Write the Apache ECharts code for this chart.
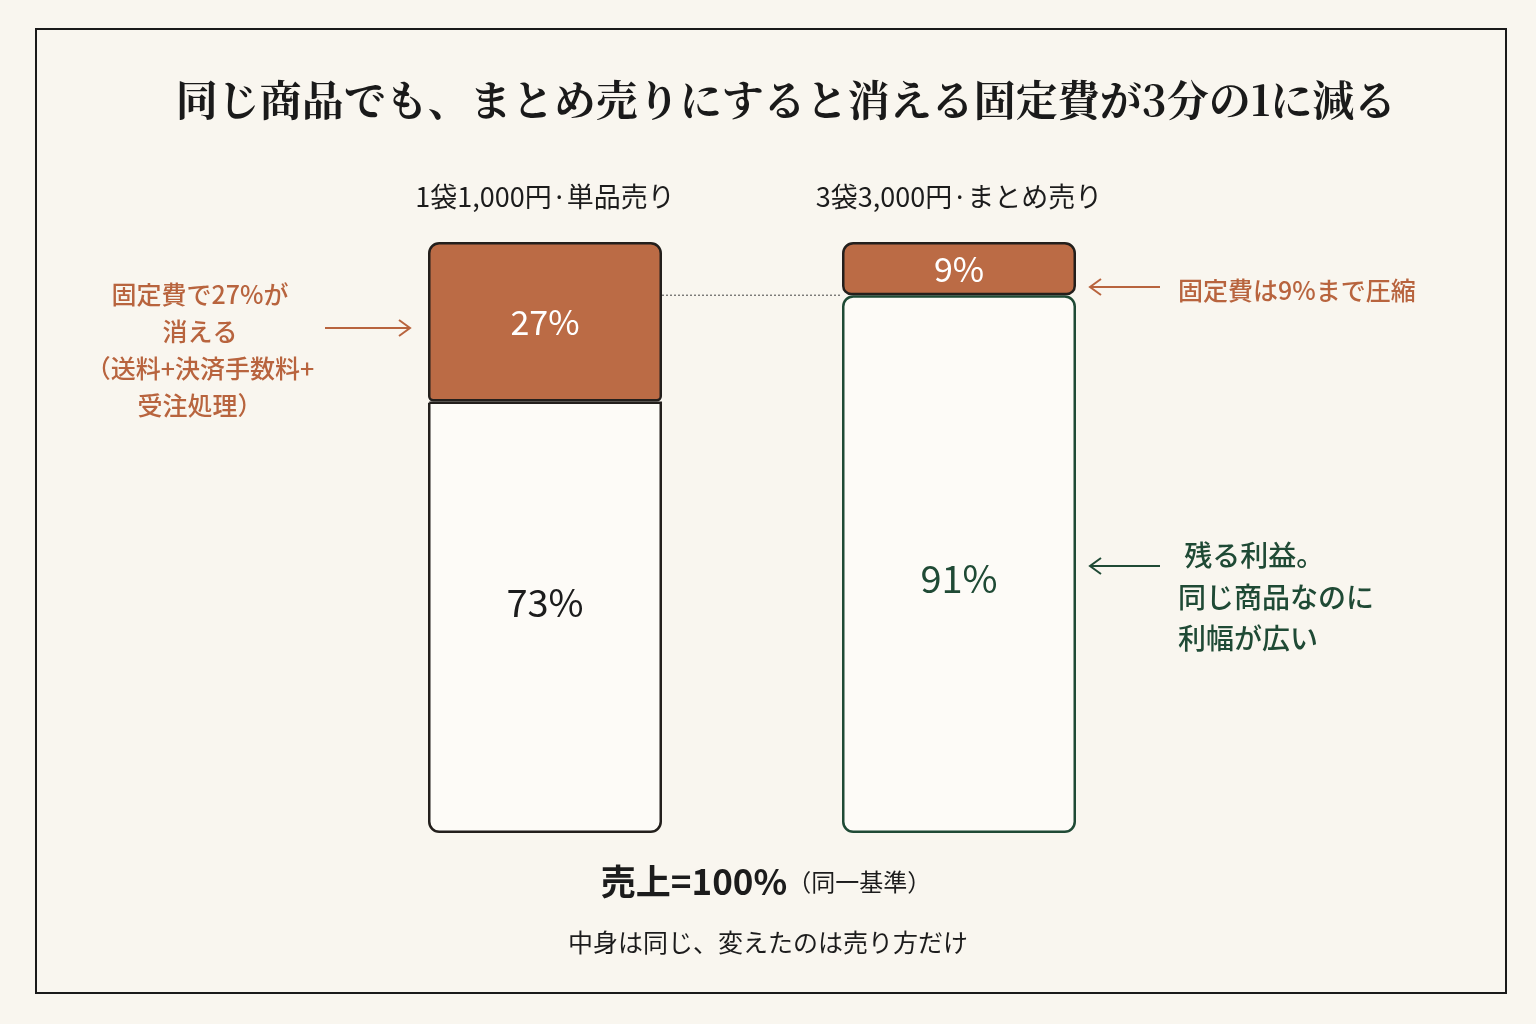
<!DOCTYPE html>
<html><head><meta charset="utf-8">
<script src="https://cdn.jsdelivr.net/npm/echarts@6/dist/echarts.min.js"></script>
<style>html,body{margin:0;padding:0;background:#f9f6ef;}#c{width:1536px;height:1024px;}</style>
</head><body><div id="c"></div>
<script>
const categories = ['1袋1,000円·単品売り', '3袋3,000円·まとめ売り'];
const fixedCost = [27, 9];
const profit = [73, 91];

const ORANGE = '#bb6b45';
const ORANGE_TXT = '#b8643e';
const GREEN = '#1f4a35';
const DARK = '#231f1c';
const FONT = '"Noto Sans CJK JP", "Noto Sans", sans-serif';

const chart = echarts.init(document.getElementById('c'), null, {renderer: 'canvas'});

const profitData = profit.map((v, i) => ({
  value: v,
  itemStyle: {
    color: '#fdfbf7',
    borderColor: i === 0 ? DARK : GREEN,
    borderWidth: 2.5,
    borderRadius: i === 0 ? [0, 0, 10, 10] : [10, 10, 10, 10]
  },
  label: { color: i === 0 ? '#1c1c1c' : GREEN, offset: [0, i === 0 ? -15 : 14] }
}));
const fixedData = fixedCost.map((v, i) => ({
  value: v,
  itemStyle: {
    color: ORANGE,
    borderColor: DARK,
    borderWidth: 2.5,
    borderRadius: i === 0 ? [10, 10, 4, 4] : [10, 10, 8, 8]
  }
}));

const option = {
  backgroundColor: '#f9f6ef',
  animation: false,
  title: {
    text: '同じ商品でも、まとめ売りにすると消える固定費が3分の1に減る',
    left: 781, top: 74, textAlign: 'center',
    textStyle: { fontFamily: '"Noto Serif CJK JP", "Noto Sans CJK JP", serif', fontSize: 42, fontWeight: 'bold', color: '#1a1a1a' }
  },
  grid: { left: 338, right: 370, top: 242, bottom: 191 },
  xAxis: {
    type: 'category', data: categories, position: 'top',
    axisLine: { show: false }, axisTick: { show: false },
    axisLabel: { margin: 32, fontSize: 27, color: '#1c1c1c', fontFamily: FONT }
  },
  yAxis: { type: 'value', min: 0, max: 100, show: false, splitLine: { show: false } },
  series: [
    {
      name: '利益', type: 'bar', stack: 'total', barWidth: 234, data: profitData,
      label: { show: true, position: 'inside', formatter: '{c}%', fontSize: 38, fontFamily: FONT }
    },
    {
      name: '固定費', type: 'bar', stack: 'total', barWidth: 234, data: fixedData,
      label: { show: true, position: 'inside', formatter: '{c}%', fontSize: 34, color: '#fff', fontFamily: FONT }
    }
  ],
  graphic: []
};
chart.setOption(option);

function arrow(x1, y, x2, color) {
  const dir = x2 > x1 ? -1 : 1;
  return [
    { type: 'line', shape: { x1: x1, y1: y, x2: x2, y2: y }, style: { stroke: color, lineWidth: 2 } },
    { type: 'polyline', shape: { points: [[x2 + dir * 11, y - 8], [x2, y], [x2 + dir * 11, y + 8]] }, style: { stroke: color, lineWidth: 2, fill: null } }
  ];
}

const yBoundary = chart.convertToPixel({ yAxisIndex: 0 }, profit[1]);
const xLeft = chart.convertToPixel({ xAxisIndex: 0 }, categories[0]) + 117;
const xRight = chart.convertToPixel({ xAxisIndex: 0 }, categories[1]) - 117;

const g = [
  { type: 'rect', shape: { x: 36, y: 29, width: 1470, height: 964 }, style: { fill: null, stroke: '#1a1a1a', lineWidth: 2 }, z: 100 },
  { type: 'line', shape: { x1: xLeft, y1: yBoundary, x2: xRight, y2: yBoundary }, style: { stroke: '#444', lineWidth: 1, lineDash: [2, 2] }, z: 1 },
  { type: 'text', x: 200, y: 276, style: { text: '固定費で27%が\n消える\n（送料+決済手数料+\n受注処理）', fill: ORANGE_TXT, font: '500 25px ' + FONT, lineHeight: 37, align: 'center' } },
  { type: 'text', x: 1178, y: 290, style: { text: '固定費は9%まで圧縮', fill: ORANGE_TXT, font: '500 25px ' + FONT, verticalAlign: 'middle' } },
  { type: 'text', x: 1178, y: 535, style: { text: ' 残る利益。\n同じ商品なのに\n利幅が広い', fill: GREEN, font: '500 28px ' + FONT, lineHeight: 41.5 } },
  { type: 'text', x: 766, y: 882, style: { text: '{a|売上=100%}{b|（同一基準）}', rich: { a: { fontSize: 35, fontWeight: 'bold', fontFamily: FONT, fill: '#1c1c1c' }, b: { fontSize: 24, fontFamily: FONT, fill: '#1c1c1c' } }, align: 'center', verticalAlign: 'middle' } },
  { type: 'text', x: 768, y: 942, style: { text: '中身は同じ、変えたのは売り方だけ', fill: '#1c1c1c', font: '25px ' + FONT, align: 'center', verticalAlign: 'middle' } }
]
  .concat(arrow(325, 328, 410, ORANGE_TXT))
  .concat(arrow(1160, 287, 1090, ORANGE_TXT))
  .concat(arrow(1160, 566, 1090, GREEN));

chart.setOption({ graphic: g });
</script>
</body></html>
